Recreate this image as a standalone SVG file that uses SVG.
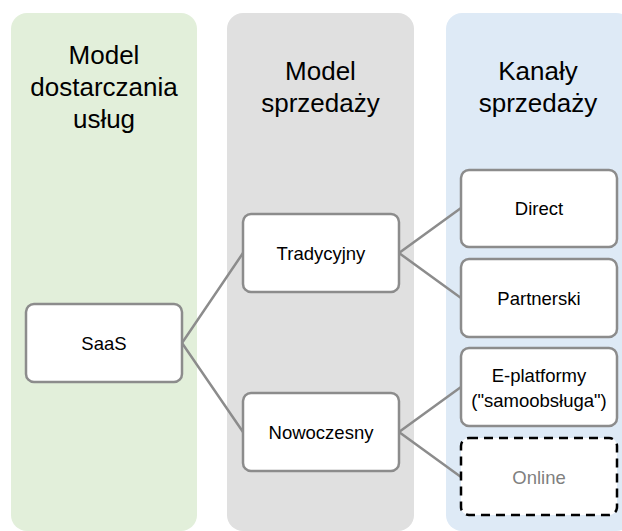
<svg xmlns="http://www.w3.org/2000/svg" width="622" height="531" viewBox="0 0 622 531">
<style>
.col{stroke:none}
.hdr{font-family:"Liberation Sans",Arial,sans-serif;font-size:26px;fill:#000;text-anchor:middle}
.box{fill:#fff;stroke:#8c8c8c;stroke-width:2.5}
.dash{fill:#fff;stroke:#000;stroke-width:2.5;stroke-dasharray:9 6}
.lbl{font-family:"Liberation Sans",Arial,sans-serif;font-size:18.5px;fill:#000;text-anchor:middle}
.conn{stroke:#8c8c8c;stroke-width:2.5;fill:none}
</style>
<rect width="622" height="531" fill="#fff"/>
<g id="col-delivery">
<rect class="col" x="11" y="13" width="186" height="518" rx="16" fill="#e2efda"/>
<text class="hdr" x="104" y="64">Model</text>
<text class="hdr" x="104" y="96">dostarczania</text>
<text class="hdr" x="104" y="128">usług</text>
</g>
<g id="col-sales-model">
<rect class="col" x="227" y="13" width="187" height="518" rx="16" fill="#e0e0e0"/>
<text class="hdr" x="320.5" y="80">Model</text>
<text class="hdr" x="320.5" y="112">sprzedaży</text>
</g>
<g id="col-channels">
<rect class="col" x="446" y="13" width="186" height="518" rx="16" fill="#deeaf6"/>
<text class="hdr" x="538" y="80">Kanały</text>
<text class="hdr" x="538" y="112">sprzedaży</text>
</g>
<g id="connectors">
<polyline class="conn" points="243,253 182,343 243,432"/>
<polyline class="conn" points="461,208 399,253 461,298"/>
<polyline class="conn" points="461,387 399,432 461,477"/>
</g>
<g id="saas">
<rect class="box" x="26" y="304" width="156" height="78" rx="8"/>
<text class="lbl" x="104" y="350">SaaS</text>
</g>
<g id="tradycyjny">
<rect class="box" x="243" y="214" width="156" height="78" rx="8"/>
<text class="lbl" x="321" y="260">Tradycyjny</text>
</g>
<g id="nowoczesny">
<rect class="box" x="243" y="393" width="156" height="78" rx="8"/>
<text class="lbl" x="321" y="439">Nowoczesny</text>
</g>
<g id="direct">
<rect class="box" x="461" y="170" width="156" height="77" rx="8"/>
<text class="lbl" x="539" y="215">Direct</text>
</g>
<g id="partnerski">
<rect class="box" x="461" y="259" width="156" height="78" rx="8"/>
<text class="lbl" x="539" y="305">Partnerski</text>
</g>
<g id="e-platformy">
<rect class="box" x="461" y="348" width="156" height="78" rx="8"/>
<text class="lbl" x="539" y="382">E-platformy</text>
<text class="lbl" x="539" y="407">("samoobsługa")</text>
</g>
<g id="online">
<rect class="dash" x="461" y="438" width="156" height="77" rx="8"/>
<text class="lbl" x="539" y="484" style="fill:#7f7f7f">Online</text>
</g>
</svg>
